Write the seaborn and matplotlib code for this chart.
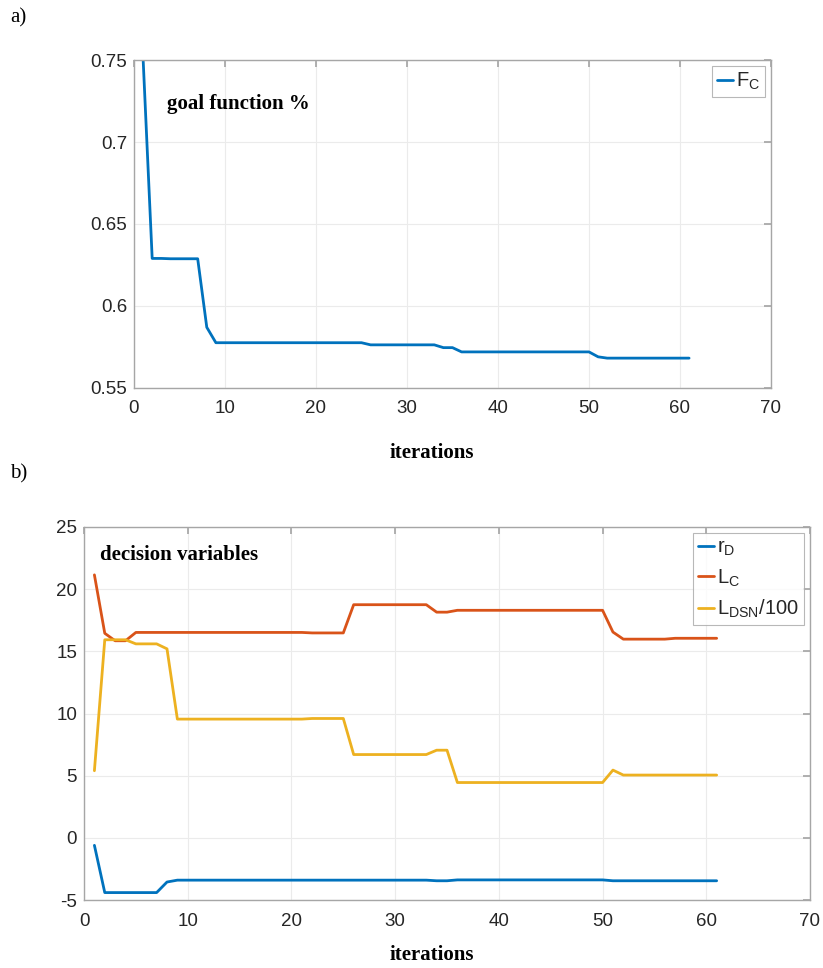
import matplotlib
matplotlib.use("Agg")
import matplotlib.pyplot as plt
import seaborn as sns
import pandas as pd

iterations = list(range(1, 62))

f_c = [0.751, 0.629, 0.629, 0.6288, 0.6288, 0.6288, 0.6288, 0.587,
       0.5776, 0.5776, 0.5776, 0.5776, 0.5776, 0.5776, 0.5776, 0.5776, 0.5776,
       0.5776, 0.5776, 0.5776, 0.5776, 0.5776, 0.5776, 0.5776, 0.5776,
       0.5763, 0.5763, 0.5763, 0.5763, 0.5763, 0.5763, 0.5763, 0.5763,
       0.5746, 0.5746,
       0.572, 0.572, 0.572, 0.572, 0.572, 0.572, 0.572, 0.572, 0.572, 0.572,
       0.572, 0.572, 0.572, 0.572, 0.572,
       0.569,
       0.5682, 0.5682, 0.5682, 0.5682, 0.5682, 0.5682, 0.5682, 0.5682, 0.5682, 0.5682]

r_d = [-0.6, -4.4, -4.4, -4.4, -4.4, -4.4, -4.4, -3.55,
       -3.4, -3.4, -3.4, -3.4, -3.4, -3.4, -3.4, -3.4, -3.4, -3.4, -3.4, -3.4, -3.4,
       -3.4, -3.4, -3.4, -3.4, -3.4, -3.4, -3.4, -3.4, -3.4, -3.4, -3.4, -3.4,
       -3.45, -3.45,
       -3.38, -3.38, -3.38, -3.38, -3.38, -3.38, -3.38, -3.38, -3.38, -3.38,
       -3.38, -3.38, -3.38, -3.38, -3.38,
       -3.45, -3.45, -3.45, -3.45, -3.45, -3.45, -3.45, -3.45, -3.45, -3.45, -3.45]

l_c = [21.15, 16.45, 15.85, 15.85,
       16.52, 16.52, 16.52, 16.52, 16.52, 16.52, 16.52, 16.52, 16.52, 16.52,
       16.52, 16.52, 16.52, 16.52, 16.52, 16.52, 16.52,
       16.48, 16.48, 16.48, 16.48,
       18.75, 18.75, 18.75, 18.75, 18.75, 18.75, 18.75, 18.75,
       18.15, 18.15,
       18.3, 18.3, 18.3, 18.3, 18.3, 18.3, 18.3, 18.3, 18.3, 18.3,
       18.3, 18.3, 18.3, 18.3, 18.3,
       16.55,
       15.98, 15.98, 15.98, 15.98, 15.98,
       16.05, 16.05, 16.05, 16.05, 16.05]

l_dsn = [5.4, 15.93, 15.93, 15.93, 15.6, 15.6, 15.6, 15.2,
         9.55, 9.55, 9.55, 9.55, 9.55, 9.55, 9.55, 9.55, 9.55, 9.55, 9.55, 9.55, 9.55,
         9.6, 9.6, 9.6, 9.6,
         6.7, 6.7, 6.7, 6.7, 6.7, 6.7, 6.7, 6.7,
         7.05, 7.05,
         4.45, 4.45, 4.45, 4.45, 4.45, 4.45, 4.45, 4.45, 4.45, 4.45,
         4.45, 4.45, 4.45, 4.45, 4.45,
         5.45,
         5.05, 5.05, 5.05, 5.05, 5.05, 5.05, 5.05, 5.05, 5.05, 5.05]

top_label = r"$\mathregular{F_C}$"
bottom_labels = [r"$\mathregular{r_D}$", r"$\mathregular{L_C}$", r"$\mathregular{L_{DSN}/100}$"]
colors = ["#0072BD", "#D95319", "#EDB120"]

sns.set_theme(style="white")
plt.rcParams["font.family"] = ["Liberation Sans", "DejaVu Sans"]
plt.rcParams["mathtext.fontset"] = "custom"
plt.rcParams["mathtext.rm"] = "Liberation Sans"

fig = plt.figure(figsize=(8.23, 9.68), dpi=100)
ax1 = fig.add_axes([0.1628, 0.5992, 0.774, 0.3388])
ax2 = fig.add_axes([0.1021, 0.0702, 0.8821, 0.3854])

df1 = pd.DataFrame({"iteration": iterations, "value": f_c, "series": top_label})
sns.lineplot(data=df1, x="iteration", y="value", hue="series", palette=[colors[0]],
             linewidth=2, ax=ax1)

df2 = pd.concat([
    pd.DataFrame({"iteration": iterations, "value": r_d, "series": bottom_labels[0]}),
    pd.DataFrame({"iteration": iterations, "value": l_c, "series": bottom_labels[1]}),
    pd.DataFrame({"iteration": iterations, "value": l_dsn, "series": bottom_labels[2]}),
])
sns.lineplot(data=df2, x="iteration", y="value", hue="series", palette=colors,
             linewidth=2, ax=ax2)

def style(ax, ylim, yticks, yfmt):
    ax.set_xlim(0, 70)
    ax.set_ylim(*ylim)
    ax.set_xticks(range(0, 71, 10))
    ax.set_yticks(yticks)
    ax.set_yticklabels([yfmt(v) for v in yticks])
    ax.grid(True, color="#ebebeb", linewidth=0.8)
    for s in ax.spines.values():
        s.set_color("#a6a6a6")
        s.set_linewidth(1.0)
    ax.tick_params(direction="in", length=5, color="#a6a6a6", top=True, right=True,
                   labelsize=13.5, labelcolor="#262626")
    ax.tick_params(axis="x", pad=9)
    ax.tick_params(axis="y", pad=5)
    ax.set_xlabel("")
    ax.set_ylabel("")

style(ax1, (0.55, 0.75), [0.55, 0.6, 0.65, 0.7, 0.75], lambda v: f"{v:g}")
style(ax2, (-5, 25), [-5, 0, 5, 10, 15, 20, 25], lambda v: f"{v:g}")

leg_kw = dict(frameon=True, fancybox=False, edgecolor="#a6a6a6", fontsize=14.5,
              handlelength=0.8, handletextpad=0.15, borderpad=0.25, labelspacing=0.45,
              borderaxespad=0.3, title=None)
l1 = ax1.legend(loc="upper right", **leg_kw)
l2 = ax2.legend(loc="upper right", **leg_kw)
for l in (l1, l2):
    l.get_frame().set_linewidth(0.8)
    for t in l.get_texts():
        t.set_color("#262626")

serif = dict(family=["Liberation Serif", "DejaVu Serif"], fontweight="bold", fontsize=15, color="black")
ax1.text(0.052, 0.865, "goal function %", transform=ax1.transAxes, ha="left", va="center", **serif)
ax2.text(0.022, 0.925, "decision variables", transform=ax2.transAxes, ha="left", va="center", **serif)
fig.text(432 / 823, 1 - 453 / 968, "iterations", ha="center", va="center", **serif)
fig.text(432 / 823, 1 - 955 / 968, "iterations", ha="center", va="center", **serif)
fig.text(10 / 823, 1 - 18 / 968, "a)", ha="left", va="center",
         family=["Liberation Serif", "DejaVu Serif"], fontsize=15, color="black")
fig.text(10 / 823, 1 - 474 / 968, "b)", ha="left", va="center",
         family=["Liberation Serif", "DejaVu Serif"], fontsize=15, color="black")

fig.savefig("out.png", dpi=100, facecolor="white")
